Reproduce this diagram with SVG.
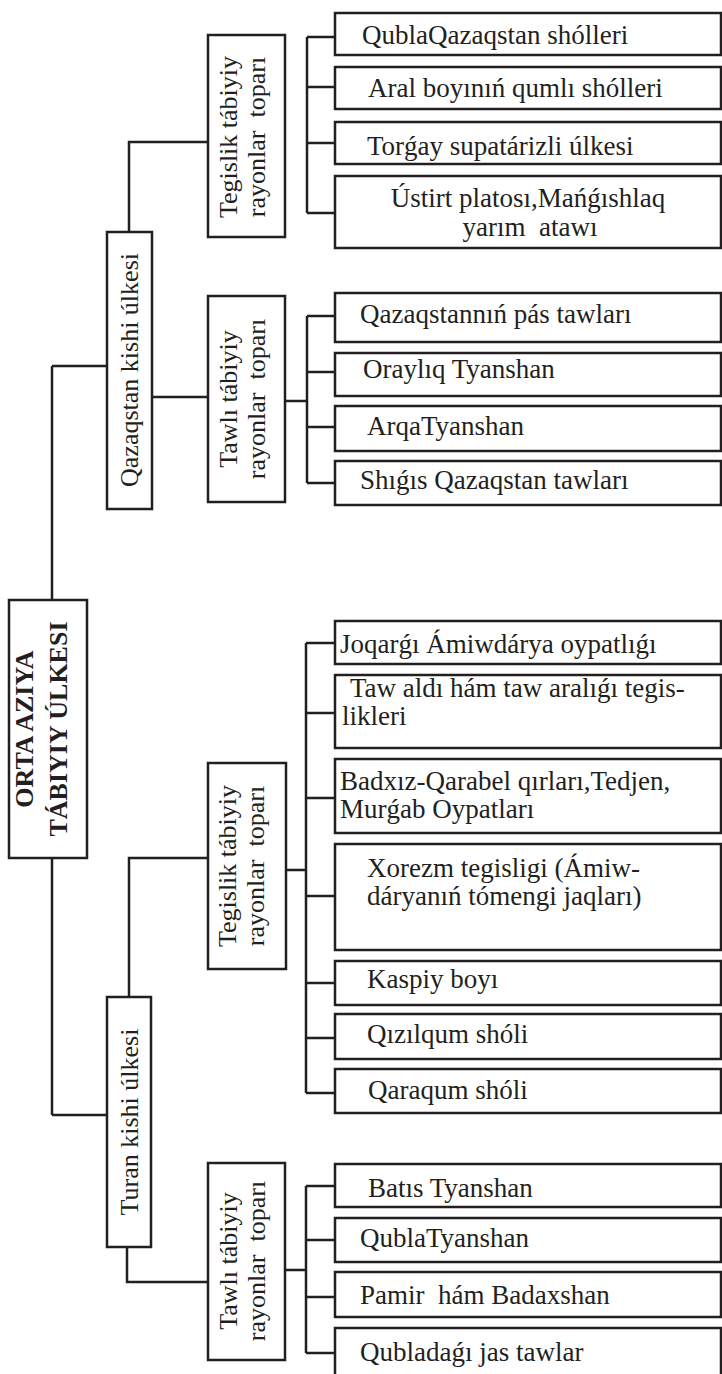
<svg xmlns="http://www.w3.org/2000/svg" width="722" height="1374" viewBox="0 0 722 1374">
<style>
.bx{fill:#fff;stroke:#231f20;stroke-width:2.5}
.ln{fill:none;stroke:#231f20;stroke-width:2.5}
text{font-family:"Liberation Serif","Times New Roman",serif;font-size:27px;fill:#231f20}
.rt{font-size:26px;text-anchor:middle}
.mid{text-anchor:middle}
.root{font-weight:bold;font-size:26px;text-anchor:middle}
</style>
<rect width="722" height="1374" fill="#fff"/>
<g id="connectors">
<path class="ln" d="M52,366V600M52,858V1115M52,366H107M52,1115H107"/>
<path class="ln" d="M129,232V142H208M152,397H208M129,997V858H208M127,1247V1282H208"/>
<path class="ln" d="M307,37V213M307,37H335M307,87H335M307,143H335M307,213H335"/>
<path class="ln" d="M285,401H307M307,316V483M307,316H335M307,372H335M307,427H335M307,483H335"/>
<path class="ln" d="M286,870H306M306,643V1093M306,643H335M306,713H335M306,798H335M306,896H335M306,983H335M306,1038H335M306,1093H335"/>
<path class="ln" d="M285,1270H306M306,1186V1353M306,1186H335M306,1240H335M306,1297H335M306,1353H335"/>
</g>
<g id="root">
<rect class="bx" x="9" y="600" width="78" height="258"/>
<text class="root" transform="translate(33,729) rotate(-90)">ORTA AZIYA</text>
<text class="root" transform="translate(67,729) rotate(-90)">TÁBIYIY ÚLKESI</text>
</g>
<g id="qazaqstan">
<rect class="bx" x="107" y="232" width="45" height="277"/>
<text class="rt" transform="translate(138,370) rotate(-90)">Qazaqstan kishi úlkesi</text>
</g>
<g id="turan">
<rect class="bx" x="107" y="997" width="44" height="250"/>
<text class="rt" transform="translate(138,1122) rotate(-90)">Turan kishi úlkesi</text>
</g>
<g id="q-tegislik">
<rect class="bx" x="208" y="35" width="77" height="202"/>
<text class="rt" transform="translate(237,137) rotate(-90)">Tegislik tábiyiy</text>
<text class="rt" transform="translate(265,137) rotate(-90)">rayonlar&#160; toparı</text>
</g>
<g id="q-tawli">
<rect class="bx" x="208" y="296" width="77" height="206"/>
<text class="rt" transform="translate(237,399) rotate(-90)">Tawlı tábiyiy</text>
<text class="rt" transform="translate(265,399) rotate(-90)">rayonlar&#160; toparı</text>
</g>
<g id="t-tegislik">
<rect class="bx" x="208" y="763" width="78" height="206"/>
<text class="rt" transform="translate(236,866) rotate(-90)">Tegislik tábiyiy</text>
<text class="rt" transform="translate(264,866) rotate(-90)">rayonlar&#160; toparı</text>
</g>
<g id="t-tawli">
<rect class="bx" x="208" y="1163" width="77" height="197"/>
<text class="rt" transform="translate(237,1261) rotate(-90)">Tawlı tábiyiy</text>
<text class="rt" transform="translate(265,1261) rotate(-90)">rayonlar&#160; toparı</text>
</g>
<g id="a1"><rect class="bx" x="335" y="13" width="386" height="42"/><text x="362" y="44">QublaQazaqstan shólleri</text></g>
<g id="a2"><rect class="bx" x="335" y="67" width="386" height="42"/><text x="368" y="97">Aral boyınıń qumlı shólleri</text></g>
<g id="a3"><rect class="bx" x="335" y="122" width="386" height="42"/><text x="367" y="155">Torǵay supatárizli úlkesi</text></g>
<g id="a4"><rect class="bx" x="335" y="176" width="386" height="72"/><text class="mid" x="528" y="207">Ústirt platosı,Mańǵıshlaq</text><text class="mid" x="530" y="236">yarım&#160; atawı</text></g>
<g id="b1"><rect class="bx" x="335" y="293" width="386" height="49"/><text x="360" y="323">Qazaqstannıń pás tawları</text></g>
<g id="b2"><rect class="bx" x="335" y="353" width="386" height="43"/><text x="363" y="378">Oraylıq Tyanshan</text></g>
<g id="b3"><rect class="bx" x="335" y="406" width="386" height="45"/><text x="367" y="435">ArqaTyanshan</text></g>
<g id="b4"><rect class="bx" x="335" y="461" width="386" height="44"/><text x="360" y="489">Shıǵıs Qazaqstan tawları</text></g>
<g id="c1"><rect class="bx" x="335" y="621" width="386" height="43"/><text x="340" y="653">Joqarǵı Ámiwdárya oypatlıǵı</text></g>
<g id="c2"><rect class="bx" x="335" y="675" width="386" height="73"/><text x="350" y="697">Taw aldı hám taw aralıǵı tegis-</text><text x="342" y="725">likleri</text></g>
<g id="c3"><rect class="bx" x="335" y="759" width="386" height="74"/><text x="340" y="790">Badxız-Qarabel qırları,Tedjen,</text><text x="340" y="818">Murǵab Oypatları</text></g>
<g id="c4"><rect class="bx" x="335" y="844" width="386" height="106"/><text x="367" y="877">Xorezm tegisligi (Ámiw-</text><text x="367" y="905">dáryanıń tómengi jaqları)</text></g>
<g id="c5"><rect class="bx" x="335" y="961" width="386" height="44"/><text x="367" y="988">Kaspiy boyı</text></g>
<g id="c6"><rect class="bx" x="335" y="1014" width="386" height="45"/><text x="367" y="1043">Qızılqum shóli</text></g>
<g id="c7"><rect class="bx" x="335" y="1069" width="386" height="44"/><text x="368" y="1099">Qaraqum shóli</text></g>
<g id="d1"><rect class="bx" x="335" y="1164" width="386" height="43"/><text x="368" y="1197">Batıs Tyanshan</text></g>
<g id="d2"><rect class="bx" x="335" y="1218" width="386" height="44"/><text x="360" y="1247">QublaTyanshan</text></g>
<g id="d3"><rect class="bx" x="335" y="1272" width="386" height="45"/><text x="360" y="1304">Pamir&#160; hám Badaxshan</text></g>
<g id="d4"><rect class="bx" x="335" y="1328" width="386" height="60"/><text x="360" y="1361">Qubladaǵı jas tawlar</text></g>
</svg>
